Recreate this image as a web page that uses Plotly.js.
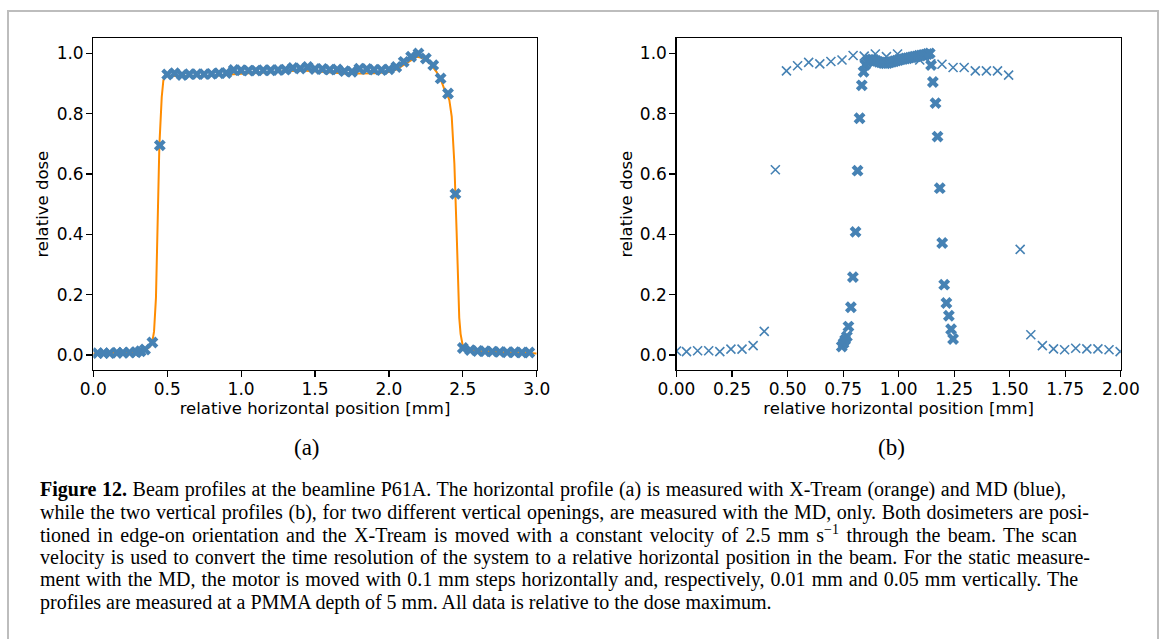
<!DOCTYPE html>
<html>
<head>
<meta charset="utf-8">
<script src="https://cdn.plot.ly/plotly-3.0.1.min.js"></script>
<style>
  html, body { margin: 0; padding: 0; background: #fff; }
  #chart { width: 1167px; height: 639px; }
</style>
</head>
<body>
<div id="chart"></div>
<script>
// ---------- (a) horizontal profile ----------
// X-Tream (orange, continuous)
const xtreamX = [0.0, 0.1, 0.2, 0.3, 0.35, 0.38, 0.398, 0.411, 0.424, 0.435, 0.447, 0.463, 0.474, 0.483, 0.5,
  0.6, 0.7, 0.8, 0.9, 1.0, 1.1, 1.2, 1.3, 1.4, 1.5, 1.6, 1.7, 1.8, 1.9, 2.0, 2.05, 2.1, 2.15, 2.19, 2.23,
  2.278, 2.322, 2.357, 2.386, 2.402, 2.409, 2.418, 2.425, 2.443, 2.452, 2.458, 2.465, 2.47, 2.476, 2.485,
  2.498, 2.515, 2.55, 2.6, 2.7, 2.8, 2.9, 3.0];
const xtreamY = [0.005, 0.006, 0.007, 0.01, 0.016, 0.026, 0.039, 0.078, 0.19, 0.41, 0.695, 0.855, 0.91, 0.925, 0.925,
  0.924, 0.923, 0.925, 0.929, 0.933, 0.936, 0.937, 0.939, 0.943, 0.941, 0.936, 0.933, 0.933, 0.934, 0.938, 0.946, 0.962, 0.977, 0.989, 0.985,
  0.967, 0.939, 0.905, 0.867, 0.855, 0.845, 0.8, 0.79, 0.634, 0.534, 0.412, 0.3, 0.19, 0.123, 0.07,
  0.035, 0.02, 0.016, 0.013, 0.01, 0.008, 0.007, 0.005];

// MD (blue markers)
const mdX = [0.03, 0.07, 0.11, 0.16, 0.2, 0.245, 0.29, 0.32, 0.35, 0.4, 0.45,
  0.5, 0.55, 0.6, 0.65, 0.7, 0.75, 0.8, 0.85, 0.9, 0.95, 1.0, 1.05, 1.1, 1.15, 1.2, 1.25, 1.3, 1.35,
  1.4, 1.45, 1.5, 1.55, 1.6, 1.65, 1.7, 1.75, 1.8, 1.85, 1.9, 1.95, 2.0, 2.05, 2.1, 2.15, 2.2,
  2.25, 2.3, 2.35, 2.4, 2.45, 2.5, 2.55, 2.6, 2.65, 2.7, 2.75, 2.8, 2.85, 2.9, 2.95];
const mdY = [0.006, 0.006, 0.006, 0.007, 0.007, 0.008, 0.009, 0.012, 0.018, 0.041, 0.695,
  0.930, 0.934, 0.928, 0.931, 0.931, 0.931, 0.932, 0.934, 0.935, 0.945, 0.944, 0.943, 0.943, 0.944, 0.944, 0.945, 0.946, 0.952,
  0.950, 0.955, 0.948, 0.948, 0.946, 0.947, 0.941, 0.939, 0.949, 0.948, 0.946, 0.945, 0.947, 0.955, 0.972, 0.989, 1.0,
  0.983, 0.961, 0.917, 0.867, 0.534, 0.023, 0.016, 0.013, 0.012, 0.011, 0.01, 0.009, 0.009, 0.008, 0.008];

// ---------- (b) vertical profiles ----------
// 0.05 mm steps (thin x)
const coarseX = [0.0, 0.045, 0.095, 0.145, 0.195, 0.245, 0.295, 0.345, 0.395, 0.445, 0.495, 0.545, 0.595, 0.645,
  0.695, 0.745, 0.795, 0.845, 0.895, 0.945, 0.995, 1.045, 1.095, 1.145, 1.195, 1.245, 1.295, 1.345, 1.395,
  1.445, 1.495, 1.547, 1.595, 1.647, 1.697, 1.747, 1.797, 1.847, 1.897, 1.947, 1.997];
const coarseY = [0.013, 0.011, 0.014, 0.014, 0.011, 0.019, 0.019, 0.031, 0.078, 0.614, 0.942, 0.959, 0.970, 0.965,
  0.973, 0.978, 0.993, 0.991, 0.998, 0.989, 0.998, 0.985, 0.978, 0.965, 0.964, 0.953, 0.953, 0.942, 0.942,
  0.942, 0.928, 0.350, 0.067, 0.031, 0.020, 0.017, 0.022, 0.020, 0.020, 0.017, 0.011];

// 0.01 mm steps (thick X)
const fineX = [0.744, 0.752, 0.759, 0.767, 0.774, 0.785, 0.794, 0.806, 0.815, 0.824, 0.834, 0.842,
  0.85, 0.86, 0.87, 0.88, 0.89, 0.90, 0.91, 0.92, 0.93, 0.94, 0.95, 0.96, 0.97, 0.98, 0.99, 1.00,
  1.01, 1.02, 1.03, 1.04, 1.05, 1.06, 1.07, 1.08, 1.09, 1.10, 1.11, 1.12, 1.13, 1.14,
  1.146, 1.154, 1.166, 1.175, 1.185, 1.196, 1.205, 1.215, 1.226, 1.236, 1.245];
const fineY = [0.028, 0.039, 0.05, 0.061, 0.094, 0.158, 0.258, 0.408, 0.611, 0.785, 0.894, 0.939,
  0.962, 0.972, 0.978, 0.980, 0.978, 0.975, 0.972, 0.970, 0.968, 0.967, 0.968, 0.970, 0.972, 0.974, 0.976, 0.978,
  0.980, 0.981, 0.983, 0.984, 0.986, 0.987, 0.989, 0.990, 0.992, 0.993, 0.995, 0.996, 0.998, 1.0,
  0.961, 0.905, 0.835, 0.724, 0.553, 0.371, 0.233, 0.172, 0.130, 0.085, 0.053];

const leftTicks = [0, 0.5, 1.0, 1.5, 2.0, 2.5, 3.0];
const rightTicks = [0, 0.25, 0.5, 0.75, 1.0, 1.25, 1.5, 1.75, 2.0];
const yTicks = [0, 0.2, 0.4, 0.6, 0.8, 1.0];

const captionLines = [
  "<b>Figure 12.</b> Beam profiles at the beamline P61A. The horizontal profile (a) is measured with X-Tream (orange) and MD (blue),",
  "while the two vertical profiles (b), for two different vertical openings, are measured with the MD, only. Both dosimeters are posi-",
  "tioned in edge-on orientation and the X-Tream is moved with a constant velocity of 2.5 mm s<sup>\u22121</sup> through the beam. The scan",
  "velocity is used to convert the time resolution of the system to a relative horizontal position in the beam. For the static measure-",
  "ment with the MD, the motor is moved with 0.1 mm steps horizontally and, respectively, 0.01 mm and 0.05 mm vertically. The",
  "profiles are measured at a PMMA depth of 5 mm. All data is relative to the dose maximum."
];
// right edge of each justified caption line in the reference (px); last line is ragged
const captionEnds = [1064, 1087, 1075, 1088, 1076, null];

const W = 1167, H = 639;
const px = v => v / W;
const py = v => 1 - v / H;

const tickFont = {family: 'DejaVu Sans', size: 17, color: '#000'};
const titleFont = {family: 'DejaVu Sans', size: 16.5, color: '#000'};
const axBase = {
  showgrid: false, zeroline: false, showline: true, mirror: true,
  linecolor: '#000', linewidth: 1.2, ticks: 'outside', ticklen: 6, tickwidth: 1.2,
  tickcolor: '#000', tickfont: tickFont
};

const blue = '#4682b4';
const traces = [
  {x: xtreamX, y: xtreamY, xaxis: 'x', yaxis: 'y', mode: 'lines',
   line: {color: '#ff8c00', width: 2}, hoverinfo: 'skip'},
  {x: mdX, y: mdY, xaxis: 'x', yaxis: 'y', mode: 'markers',
   marker: {symbol: 'x', size: 10.5, color: blue, line: {width: 0}}},
  {x: coarseX, y: coarseY, xaxis: 'x2', yaxis: 'y2', mode: 'markers',
   marker: {symbol: 'x-thin-open', size: 9, color: blue, line: {color: blue, width: 1.6}}},
  {x: fineX, y: fineY, xaxis: 'x2', yaxis: 'y2', mode: 'markers',
   marker: {symbol: 'x', size: 10.5, color: blue, line: {width: 0}}}
];

const annotations = [
  {text: '(a)', x: px(307), y: py(447), xref: 'paper', yref: 'paper', showarrow: false,
   xanchor: 'center', yanchor: 'middle', font: {family: 'Liberation Serif', size: 23, color: '#000'}},
  {text: '(b)', x: px(891), y: py(447), xref: 'paper', yref: 'paper', showarrow: false,
   xanchor: 'center', yanchor: 'middle', font: {family: 'Liberation Serif', size: 23, color: '#000'}}
];
const lineY = [489, 512, 534.5, 557, 579.5, 602];
captionLines.forEach((t, i) => {
  annotations.push({text: t, x: px(38), y: py(lineY[i]), xref: 'paper', yref: 'paper', showarrow: false,
    xanchor: 'left', yanchor: 'middle', align: 'left',
    font: {family: 'Liberation Serif', size: 20, color: '#000'}});
});

const layout = {
  width: W, height: H,
  margin: {l: 0, r: 0, t: 0, b: 0},
  paper_bgcolor: '#fff', plot_bgcolor: '#fff',
  showlegend: false,
  xaxis: Object.assign({}, axBase, {domain: [px(93.3), px(536.7)], range: [0, 3],
    tickvals: leftTicks, tickformat: '.1f', anchor: 'y', ticklabelstandoff: -3,
    title: {text: 'relative horizontal position [mm]', font: titleFont, standoff: 2}}),
  yaxis: Object.assign({}, axBase, {domain: [1 - 370 / H, 1 - 38.3 / H], range: [-0.05, 1.05],
    tickvals: yTicks, tickformat: '.1f', anchor: 'x', ticklabelstandoff: -1,
    title: {text: 'relative dose', font: titleFont, standoff: 3}}),
  xaxis2: Object.assign({}, axBase, {domain: [px(676.5), px(1120.8)], range: [0, 2],
    tickvals: rightTicks, tickformat: '.2f', anchor: 'y2', ticklabelstandoff: -3,
    title: {text: 'relative horizontal position [mm]', font: titleFont, standoff: 2}}),
  yaxis2: Object.assign({}, axBase, {domain: [1 - 370 / H, 1 - 38.3 / H], range: [-0.05, 1.05],
    tickvals: yTicks, tickformat: '.1f', anchor: 'x2', ticklabelstandoff: -1,
    title: {text: 'relative dose', font: titleFont, standoff: 3}}),
  shapes: [
    {type: 'rect', xref: 'paper', yref: 'paper', x0: px(8), x1: px(1158), y0: py(660), y1: py(11),
     line: {color: '#bdbdbd', width: 2}, fillcolor: 'rgba(0,0,0,0)', layer: 'below'}
  ],
  annotations: annotations
};

Plotly.newPlot('chart', traces, layout, {staticPlot: true, displayModeBar: false}).then(gd => {
  // justify the caption lines (as in the reference) by adjusting the word spacing
  const texts = gd.querySelectorAll('.annotation text.annotation-text');
  texts.forEach((el, i) => {
    const k = i - 2;
    if (k < 0 || k >= captionEnds.length || captionEnds[k] === null) return;
    const natural = el.getComputedTextLength();
    const spaces = (el.textContent.match(/ /g) || []).length;
    if (!spaces) return;
    const ws = (captionEnds[k] - 38 - natural) / spaces;
    el.style.wordSpacing = ws.toFixed(2) + 'px';
  });
});
</script>
</body>
</html>
